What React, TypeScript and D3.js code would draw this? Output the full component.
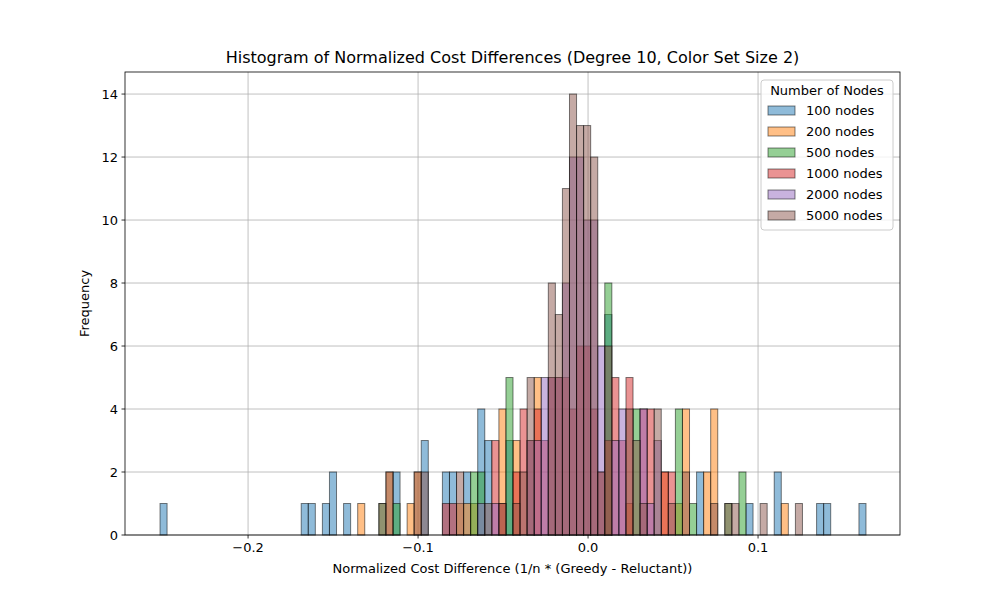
import React from 'react';
import * as d3 from 'd3';

// shared bin grid (100 bins over the combined range)
const binMin = -0.2518;
const binMax = 0.1635;
const binCount = 100;

const seriesNames = ['100 nodes', '200 nodes', '500 nodes', '1000 nodes', '2000 nodes', '5000 nodes'];
const seriesColors = ['#1f77b4', '#ff7f0e', '#2ca02c', '#d62728', '#9467bd', '#8c564b'];

// [bin index, count]
const nodes100: [number, number][] = [[0,1],[20,1],[21,1],[23,1],[24,2],[26,1],[33,2],[37,3],[40,2],[41,2],[43,2],[45,4],[46,3],[49,3],[63,7],[76,2],[83,1],[87,2],[93,1],[94,1],[99,1]];
const nodes200: [number, number][] = [[28,1],[32,2],[35,1],[36,2],[42,1],[43,1],[44,1],[48,4],[50,3],[53,5],[66,1],[71,2],[73,1],[74,4],[77,2],[78,4],[88,1]];
const nodes500: [number, number][] = [[31,1],[33,1],[44,2],[45,2],[49,5],[63,8],[67,4],[73,4],[75,1],[80,1],[82,2]];
const nodes1000: [number, number][] = [[40,1],[41,1],[47,3],[48,1],[50,2],[51,4],[52,3],[53,4],[54,3],[55,5],[56,5],[57,5],[58,4],[59,6],[60,6],[61,4],[62,2],[63,3],[64,5],[65,3],[66,5],[68,4],[69,4],[71,2],[72,2]];
const nodes2000: [number, number][] = [[45,1],[47,1],[52,3],[53,3],[54,5],[55,5],[56,5],[57,8],[58,12],[59,12],[60,10],[61,10],[62,6],[64,3],[65,4],[68,4],[69,1],[70,3]];
const nodes5000: [number, number][] = [[31,1],[32,2],[36,2],[37,2],[42,2],[46,1],[48,1],[50,1],[51,2],[52,5],[55,8],[56,7],[57,11],[58,14],[59,13],[60,13],[61,12],[62,2],[63,6],[66,4],[67,3],[68,1],[70,4],[72,1],[74,2],[78,1],[80,1],[81,1],[85,1],[90,1]];

const allSeries = [nodes100, nodes200, nodes500, nodes1000, nodes2000, nodes5000];
const xTicks = [-0.2, -0.1, 0, 0.1];
const yTicks = [0, 2, 4, 6, 8, 10, 12, 14];

const W = 1000, H = 600;
const L = 125, R = 900, T = 72, B = 535;

export default function App() {
  const x = d3.scaleLinear().domain([-0.2724, 0.1835]).range([L, R]);
  const y = d3.scaleLinear().domain([0, 14.7]).range([B, T]);
  const bw = (binMax - binMin) / binCount;
  const font = 'DejaVu Sans, sans-serif';
  const fmt = (v: number) => (v === 0 ? '0.0' : d3.format('.1f')(v).replace('-', '\u2212'));

  return (
    <svg width={W} height={H} style={{ display: 'block', margin: -8 }} fontFamily={font}>
      <rect width={W} height={H} fill="#fff" />
      {xTicks.map(t => (
        <line key={'gx' + t} x1={x(t)} x2={x(t)} y1={T} y2={B} stroke="#b0b0b0" strokeWidth={0.8} />
      ))}
      {yTicks.map(t => (
        <line key={'gy' + t} x1={L} x2={R} y1={y(t)} y2={y(t)} stroke="#b0b0b0" strokeWidth={0.8} />
      ))}
      {allSeries.map((s, si) => (
        <g key={si}>
          {s.map(([b, c]) => {
            const x0 = x(binMin + b * bw), x1 = x(binMin + (b + 1) * bw);
            return (
              <rect key={b} x={x0} y={y(c)} width={x1 - x0} height={y(0) - y(c)}
                fill={seriesColors[si]} fillOpacity={0.5} stroke="#000" strokeOpacity={0.5} strokeWidth={1} />
            );
          })}
        </g>
      ))}
      <rect x={L} y={T} width={R - L} height={B - T} fill="none" stroke="#000" strokeWidth={0.8} />
      {xTicks.map(t => (
        <g key={'xt' + t}>
          <line x1={x(t)} x2={x(t)} y1={B} y2={B + 3.5} stroke="#000" strokeWidth={0.8} />
          <text x={x(t)} y={B + 17} fontSize={13} textAnchor="middle">{fmt(t)}</text>
        </g>
      ))}
      {yTicks.map(t => (
        <g key={'yt' + t}>
          <line x1={L - 3.5} x2={L} y1={y(t)} y2={y(t)} stroke="#000" strokeWidth={0.8} />
          <text x={L - 7} y={y(t) + 4.5} fontSize={13} textAnchor="end">{t}</text>
        </g>
      ))}
      <text x={(L + R) / 2} y={63} fontSize={16} textAnchor="middle">
        Histogram of Normalized Cost Differences (Degree 10, Color Set Size 2)
      </text>
      <text x={(L + R) / 2} y={573} fontSize={13} textAnchor="middle">
        Normalized Cost Difference (1/n * (Greedy - Reluctant))
      </text>
      <text transform={`translate(89,${(T + B) / 2}) rotate(-90)`} fontSize={13} textAnchor="middle">Frequency</text>
      <g transform="translate(761,80)">
        <rect width={132} height={150} rx={3} fill="#fff" fillOpacity={0.8} stroke="#ccc" />
        <text x={66} y={15} fontSize={13} textAnchor="middle">Number of Nodes</text>
        {seriesNames.map((n, i) => (
          <g key={n} transform={`translate(7,${26 + i * 21})`}>
            <rect width={27} height={9} fill={seriesColors[i]} fillOpacity={0.5} stroke="#000" strokeOpacity={0.5} />
            <text x={38} y={9} fontSize={13}>{n}</text>
          </g>
        ))}
      </g>
    </svg>
  );
}
